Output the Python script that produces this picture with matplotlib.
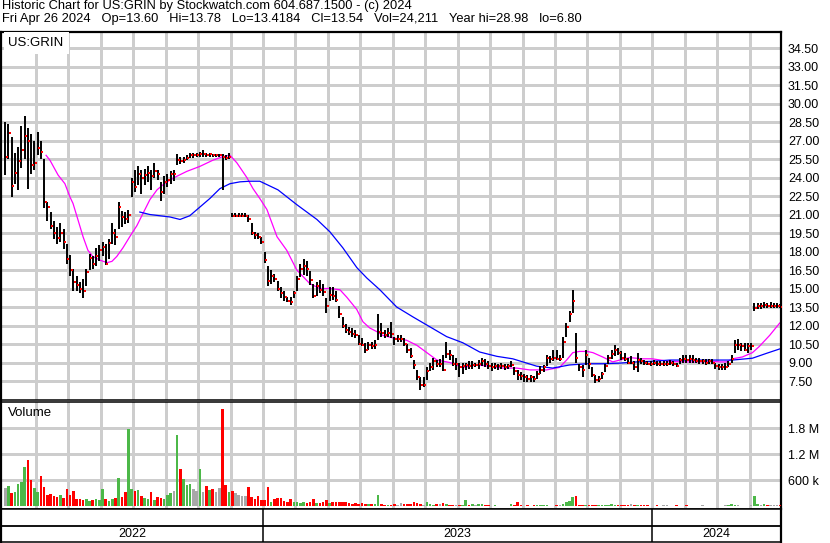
import numpy as np
import matplotlib.pyplot as plt

plt.rcParams['font.family'] = ['Liberation Sans', 'DejaVu Sans']

# bars: 10 per month, May 2022 .. Apr 2024 (one row per month)
high = [
    28.5, 28.3, 27.3, 26.0, 26.5, 28.2, 29.0, 28.0, 27.5, 27.0,
    27.7, 27.0, 25.5, 22.0, 21.2, 20.5, 20.0, 20.3, 19.8, 18.6,
    17.7, 16.6, 16.0, 15.5, 15.8, 16.6, 17.8, 17.6, 18.3, 18.5,
    18.8, 18.6, 19.0, 20.3, 19.8, 22.0, 21.3, 21.2, 21.4, 24.0,
    24.6, 24.9, 24.6, 24.7, 24.9, 24.6, 25.2, 24.6, 23.6, 24.1,
    24.3, 24.5, 24.6, 25.9, 25.7, 25.7, 25.8, 26.0, 26.0, 26.0,
    26.1, 26.2, 26.0, 26.0, 25.9, 25.9, 25.9, 25.9, 25.8, 26.0,
    21.1, 21.1, 21.1, 21.1, 21.1, 21.0, 20.3, 19.6, 19.5, 19.2,
    18.0, 16.8, 16.5, 16.2, 15.6, 15.1, 14.8, 14.3, 14.3, 14.8,
    16.0, 17.0, 17.4, 17.2, 16.4, 15.4, 15.5, 15.7, 15.4, 14.2,
    15.1, 15.1, 14.8, 13.6, 12.7, 12.1, 11.9, 11.8, 11.6, 11.2,
    11.0, 10.6, 10.7, 10.7, 10.8, 12.9, 12.2, 11.6, 11.8, 12.3,
    11.1, 11.2, 11.2, 11.0, 10.5, 10.2, 9.2, 8.4, 7.8, 7.8,
    8.6, 9.0, 9.4, 9.2, 9.3, 9.6, 10.7, 10.0, 9.6, 9.4,
    9.0, 9.0, 9.0, 9.1, 9.1, 9.0, 9.2, 9.4, 9.3, 9.1,
    9.0, 9.0, 8.9, 9.0, 8.9, 8.9, 9.1, 8.6, 8.4, 8.2,
    8.1, 8.0, 8.0, 7.9, 8.3, 8.7, 8.8, 9.6, 9.5, 10.0,
    10.0, 9.6, 11.1, 12.2, 13.2, 14.9, 11.4, 8.9, 8.8, 10.0,
    9.4, 8.6, 8.0, 7.9, 8.2, 8.9, 9.6, 10.0, 10.4, 10.2,
    9.9, 9.8, 9.4, 9.5, 9.1, 9.8, 9.4, 9.2, 9.1, 9.1,
    9.2, 9.1, 9.1, 9.1, 9.1, 9.2, 9.1, 9.0, 9.4, 9.6,
    9.6, 9.6, 9.6, 9.4, 9.4, 9.3, 9.3, 9.3, 9.3, 9.0,
    8.9, 8.9, 9.0, 9.1, 9.6, 10.8, 10.9, 10.6, 10.6, 10.6,
    10.6, 13.8, 13.8, 13.8, 13.9, 13.8, 13.9, 13.8, 13.8, 13.78,
]
low = [
    24.2, 25.5, 22.4, 23.5, 23.0, 24.8, 25.5, 23.1, 24.3, 24.6,
    25.8, 25.5, 21.5, 20.5, 19.8, 19.0, 18.6, 18.8, 18.2, 17.0,
    16.0, 14.8, 14.8, 14.6, 14.2, 15.2, 16.5, 16.6, 16.8, 17.2,
    17.6, 16.9, 17.4, 18.6, 18.5, 19.8, 20.0, 20.2, 20.3, 22.4,
    22.8, 23.4, 22.7, 23.4, 23.6, 23.0, 24.0, 23.8, 22.1, 22.7,
    23.2, 23.5, 23.7, 25.0, 25.1, 25.2, 25.4, 25.6, 25.6, 25.7,
    25.7, 25.7, 25.7, 25.7, 25.7, 25.7, 25.7, 23.0, 25.4, 25.5,
    20.8, 20.8, 20.8, 20.8, 20.8, 20.4, 19.3, 19.0, 19.0, 18.6,
    17.1, 15.2, 15.4, 15.5, 14.8, 14.2, 14.0, 13.9, 13.7, 14.2,
    14.8, 15.9, 16.1, 16.0, 15.3, 14.2, 14.4, 14.6, 14.4, 13.0,
    14.0, 14.1, 13.9, 12.6, 11.8, 11.4, 11.2, 11.1, 11.0, 10.4,
    10.3, 9.8, 10.0, 10.1, 10.1, 10.8, 11.1, 11.0, 11.1, 11.0,
    10.4, 10.7, 10.7, 10.3, 9.8, 9.4, 8.5, 7.6, 6.8, 7.0,
    7.6, 8.3, 8.4, 8.6, 8.6, 8.3, 9.4, 9.2, 8.7, 8.4,
    7.8, 8.1, 8.4, 8.5, 8.5, 8.6, 8.5, 8.7, 8.6, 8.5,
    8.3, 8.5, 8.4, 8.5, 8.4, 8.5, 8.6, 8.0, 7.6, 7.6,
    7.4, 7.4, 7.4, 7.4, 7.7, 8.1, 8.2, 8.7, 9.0, 9.1,
    9.2, 9.1, 9.4, 11.1, 12.3, 13.0, 9.0, 8.3, 7.8, 8.8,
    8.5, 7.8, 7.3, 7.4, 7.7, 8.2, 8.9, 9.3, 9.5, 9.6,
    9.2, 9.1, 8.9, 8.9, 8.4, 8.2, 8.9, 8.8, 8.8, 8.7,
    8.8, 8.7, 8.7, 8.7, 8.7, 8.8, 8.7, 8.6, 8.9, 9.0,
    9.0, 9.0, 9.0, 9.0, 8.9, 8.9, 8.8, 8.9, 8.9, 8.5,
    8.4, 8.4, 8.4, 8.6, 9.0, 9.8, 10.0, 9.9, 9.9, 9.8,
    10.0, 13.2, 13.3, 13.3, 13.4, 13.4, 13.4, 13.4, 13.4, 13.42,
]
close = [
    25.7, 27.6, 23.3, 24.4, 25.3, 26.2, 27.4, 27.0, 25.0, 25.2,
    26.4, 26.1, 22.0, 21.6, 20.1, 19.5, 19.1, 19.5, 18.8, 17.4,
    16.5, 15.5, 15.3, 15.0, 14.8, 16.3, 17.5, 17.0, 17.6, 18.1,
    18.4, 17.0, 18.7, 19.5, 19.2, 21.6, 20.8, 20.6, 21.0, 23.6,
    23.2, 24.3, 24.0, 24.2, 24.4, 24.1, 24.5, 24.3, 22.8, 23.6,
    23.8, 24.3, 24.3, 25.4, 25.3, 25.4, 25.6, 25.8, 25.8, 25.8,
    25.9, 25.9, 25.8, 25.9, 25.8, 25.8, 25.8, 25.7, 25.6, 25.7,
    20.9, 20.9, 20.9, 20.9, 20.9, 20.6, 19.5, 19.3, 19.2, 18.8,
    17.3, 15.6, 16.0, 15.8, 15.0, 14.6, 14.3, 14.0, 13.9, 14.6,
    15.8, 16.6, 16.8, 16.6, 15.7, 14.4, 15.2, 14.9, 14.7, 13.6,
    14.5, 14.4, 14.1, 12.9, 12.0, 11.6, 11.5, 11.3, 11.2, 10.5,
    10.4, 10.0, 10.4, 10.3, 10.4, 11.5, 11.4, 11.2, 11.4, 11.3,
    10.9, 10.9, 10.9, 10.5, 10.0, 9.5, 8.8, 7.8, 7.2, 7.2,
    8.3, 8.6, 9.1, 8.9, 8.9, 8.4, 9.7, 9.6, 8.9, 8.9,
    8.6, 8.7, 8.8, 8.7, 8.8, 8.8, 8.9, 9.1, 8.9, 8.7,
    8.6, 8.7, 8.7, 8.7, 8.6, 8.7, 8.8, 8.3, 8.0, 7.9,
    7.8, 7.7, 7.8, 7.7, 8.1, 8.4, 8.6, 9.4, 9.3, 9.4,
    9.3, 9.3, 10.7, 11.9, 12.9, 14.0, 9.4, 8.6, 8.4, 9.6,
    8.9, 8.0, 7.6, 7.7, 8.1, 8.7, 9.4, 9.7, 10.0, 9.8,
    9.4, 9.3, 9.0, 9.0, 8.6, 9.2, 9.1, 9.0, 8.9, 8.9,
    9.0, 8.9, 8.9, 8.9, 8.9, 9.0, 8.9, 8.7, 9.2, 9.3,
    9.2, 9.3, 9.2, 9.1, 9.1, 9.1, 9.0, 9.1, 9.0, 8.7,
    8.6, 8.6, 8.6, 8.9, 9.3, 10.4, 10.4, 10.3, 10.0, 10.3,
    10.3, 13.4, 13.6, 13.6, 13.7, 13.6, 13.6, 13.6, 13.6, 13.54,
]
# volume in thousands of shares
volume_k = [
    420, 480, 300, 330, 520, 560, 900, 1060, 600, 420,
    330, 700, 440, 260, 290, 250, 220, 270, 200, 400,
    260, 360, 180, 170, 150, 170, 130, 140, 160, 140,
    400, 170, 130, 170, 200, 650, 220, 330, 1780, 400,
    350, 380, 240, 200, 180, 320, 150, 220, 200, 180,
    260, 300, 350, 1650, 860, 630, 500, 520, 400, 350,
    860, 330, 480, 380, 400, 330, 420, 2230, 500, 330,
    350, 300, 270, 230, 250, 440, 220, 180, 250, 140,
    140, 450, 100, 160, 200, 200, 130, 100, 170, 100,
    100, 70, 110, 70, 110, 170, 70, 80, 100, 140,
    80, 110, 90, 100, 100, 110, 80, 60, 80, 50,
    70, 60, 50, 60, 60, 260, 60, 40, 40, 40,
    50, 40, 80, 50, 60, 60, 100, 80, 50, 40,
    90, 50, 30, 50, 60, 80, 60, 30, 40, 40,
    30, 30, 140, 30, 60, 30, 50, 60, 40, 30,
    20, 30, 15, 15, 15, 20, 60, 30, 100, 30,
    20, 30, 20, 25, 25, 25, 30, 30, 20, 20,
    30, 35, 50, 90, 130, 210, 230, 40, 30, 40,
    30, 35, 30, 30, 30, 30, 25, 60, 30, 25,
    25, 25, 25, 60, 30, 30, 30, 40, 35, 20,
    20, 30, 20, 25, 25, 20, 20, 25, 20, 20,
    30, 20, 20, 20, 20, 25, 20, 20, 20, 20,
    20, 20, 25, 40, 45, 30, 25, 20, 20, 20,
    25, 250, 60, 30, 45, 30, 35, 30, 35, 24,
]

# moving averages (time in months since May 2022)
fast_ma_t = [1.31, 1.43, 1.68, 1.89, 2.05, 2.14, 2.29, 2.45, 2.60, 2.75, 2.97, 3.19,
             3.34, 3.49, 3.68, 3.89, 4.11, 4.30, 4.51, 4.73, 4.91, 5.13, 5.34, 5.65,
             6.05, 6.45, 6.76, 6.98, 7.19, 7.50, 7.69, 7.90, 8.12, 8.43, 8.73, 9.04,
             9.44, 9.75, 10.06, 10.37, 10.58, 10.89, 11.08, 11.29, 11.51, 11.69, 12.00,
             12.43, 12.74, 13.05, 13.36, 13.76, 14.16, 14.59, 14.99, 15.39, 15.82, 16.22,
             16.74, 17.14, 17.36, 17.55, 17.76, 17.98, 18.17, 18.47, 18.78, 19.00, 19.30,
             19.70, 20.00, 20.50, 21.06, 21.55, 21.86, 22.08, 22.29, 22.48, 22.78, 23.09,
             23.30, 23.62, 23.93]
fast_ma = [25.8, 25.4, 24.2, 23.5, 22.4, 21.9, 20.6, 19.2, 18.1, 17.6, 17.3, 17.1,
           17.2, 17.6, 18.3, 19.2, 20.1, 21.1, 22.2, 23.0, 23.4, 23.8, 24.1, 24.5,
           24.9, 25.4, 25.7, 25.8, 25.2, 24.0, 23.1, 22.3, 21.4, 19.2, 18.1, 16.5,
           15.4, 15.0, 15.0, 14.9, 14.3, 13.3, 12.3, 11.8, 11.5, 11.2, 11.0,
           10.8, 10.4, 9.8, 9.2, 9.0, 8.6, 8.8, 8.7, 8.55, 8.55, 8.4,
           8.4, 8.6, 9.2, 9.8, 9.9, 9.9, 9.8, 9.45, 9.05, 9.2, 9.4,
           9.3, 9.3, 9.1, 9.05, 9.05, 9.1, 9.05, 9.05, 9.3, 9.45, 9.8,
           10.3, 11.2, 12.2]
slow_ma_t = [4.20, 4.51, 4.82, 5.13, 5.44, 5.74, 6.05, 6.36, 6.67, 6.98, 7.29, 7.59,
             7.90, 8.46, 9.04, 9.66, 10.06, 10.46, 10.89, 11.20, 11.60, 12.12, 12.62,
             13.14, 13.66, 14.16, 14.68, 15.21, 15.70, 16.44, 16.93, 17.45, 17.98, 18.47,
             19.00, 19.52, 20.00, 20.54, 21.06, 21.55, 22.08, 22.48, 23.09, 23.53, 23.93]
slow_ma = [21.2, 21.0, 20.9, 20.8, 20.6, 20.9, 21.6, 22.3, 23.1, 23.5, 23.65, 23.7,
           23.7, 23.0, 21.8, 20.6, 19.6, 18.3, 16.7, 15.85, 14.9, 13.5, 12.7,
           11.9, 11.1, 10.6, 9.85, 9.5, 9.3, 8.7, 8.55, 8.8, 8.9, 8.9,
           8.95, 9.05, 9.1, 9.2, 9.2, 9.2, 9.2, 9.2, 9.35, 9.75, 10.1]

price_ticks = [7.5, 9.0, 10.5, 12.0, 13.5, 15.0, 16.5, 18.0, 19.5, 21.0, 22.5, 24.0,
               25.5, 27.0, 28.5, 30.0, 31.5, 33.0, 34.5]
vol_ticks = [600, 1200, 1800]
vol_labels = ['600 k', '1.2 M', '1.8 M']
month_lines = list(range(1, 24))  # first of each month, Jun 2022 .. Apr 2024
years = ['2022', '2023', '2024']
year_starts = [8, 20]  # Jan 2023, Jan 2024 in months since May 2022

header1 = 'Historic Chart for US:GRIN by Stockwatch.com 604.687.1500 - (c) 2024'
header2 = ('Fri Apr 26 2024   Op=13.60   Hi=13.78   Lo=13.4184   Cl=13.54   '
           'Vol=24,211   Year hi=28.98   lo=6.80')

W, H = 830, 543
XMIN, XMAX = -0.08, 23.97
GRID = '#cdcdcd'


def px_box(x0, y0, x1, y1):
    return [x0 / W, 1 - y1 / H, (x1 - x0) / W, (y1 - y0) / H]


x = (np.arange(len(close)) + 0.5) / 10
chg = np.diff(np.r_[close[0], close])
vol_colors = np.where(chg > 0, '#4cb848', np.where(chg < 0, '#ff0000', '#a8a8a8'))

fig = plt.figure(figsize=(W / 100, H / 100), dpi=100)
ax = fig.add_axes(px_box(1, 32, 781, 400))
axv = fig.add_axes(px_box(1, 402, 781, 509))
axd = fig.add_axes(px_box(1, 509, 781, 542))

# price panel
ax.vlines(x, low, high, color='black', lw=1.4, zorder=3)
ax.plot(x + 0.045, close, 's', ms=1.7, mew=0, color='red', zorder=4)
ax.plot(fast_ma_t, fast_ma, color='#ff00ff', lw=0.9, zorder=2)
ax.plot(slow_ma_t, slow_ma, color='#0000ff', lw=0.9, zorder=2)
ax.set_xlim(XMIN, XMAX)
ax.set_ylim(5.96, 35.8)
ax.set_yticks(price_ticks)
ax.set_yticklabels([f'{t:.2f}' for t in price_ticks])
ax.text(0.0095, 0.971, 'US:GRIN', transform=ax.transAxes, fontsize=9.5, va='center',
        ha='left', zorder=5,
        bbox=dict(facecolor='white', edgecolor='none', pad=3.5))

# volume panel
axv.bar(x, volume_k, width=0.08, color=vol_colors, linewidth=0, zorder=3)
axv.set_xlim(XMIN, XMAX)
axv.set_ylim(-60, 2400)
axv.set_yticks(vol_ticks)
axv.set_yticklabels(vol_labels)
axv.text(0.0095, 0.9, 'Volume', transform=axv.transAxes, fontsize=9.5, va='center',
         ha='left', zorder=5)

# light grid: month lines and price / volume levels
for a, levels in ((ax, price_ticks), (axv, vol_ticks)):
    a.vlines(month_lines, 0, 1, transform=a.get_xaxis_transform(), colors=GRID,
             lw=0.75, antialiased=False, zorder=1)
    a.hlines(levels, 0, 1, transform=a.get_yaxis_transform(), colors=GRID,
             lw=0.75, antialiased=False, zorder=1)

for a in (ax, axv):
    a.set_xticks([])
    a.yaxis.tick_right()
    a.tick_params(axis='y', length=0, pad=5, labelsize=9)
    for s in a.spines.values():
        s.set_linewidth(1.1)
    a.spines['left'].set_linewidth(1.6)
    a.spines['right'].set_linewidth(1.6)
ax.spines['top'].set_linewidth(1.6)

# date strip
axd.set_xlim(XMIN, XMAX)
axd.set_ylim(0, 1)
axd.set_xticks([])
axd.set_yticks([])
axd.axhline(16 / 33, color='black', lw=1.3)
for m in year_starts:
    axd.axvline(m, color='black', lw=1.1)
bounds = [XMIN] + year_starts + [XMAX]
for i, yr in enumerate(years):
    axd.text((bounds[i] + bounds[i + 1]) / 2, 8 / 33, yr, ha='center', va='center',
             fontsize=9)
for s in axd.spines.values():
    s.set_linewidth(1.1)
axd.spines['left'].set_linewidth(1.6)
axd.spines['right'].set_linewidth(1.6)

fig.text(2 / W, 1 - 9.5 / H, header1, fontsize=9.3, va='baseline', ha='left')
fig.text(2 / W, 1 - 22 / H, header2, fontsize=9.3, va='baseline', ha='left')

fig.savefig('out.png', dpi=100, facecolor='white')
